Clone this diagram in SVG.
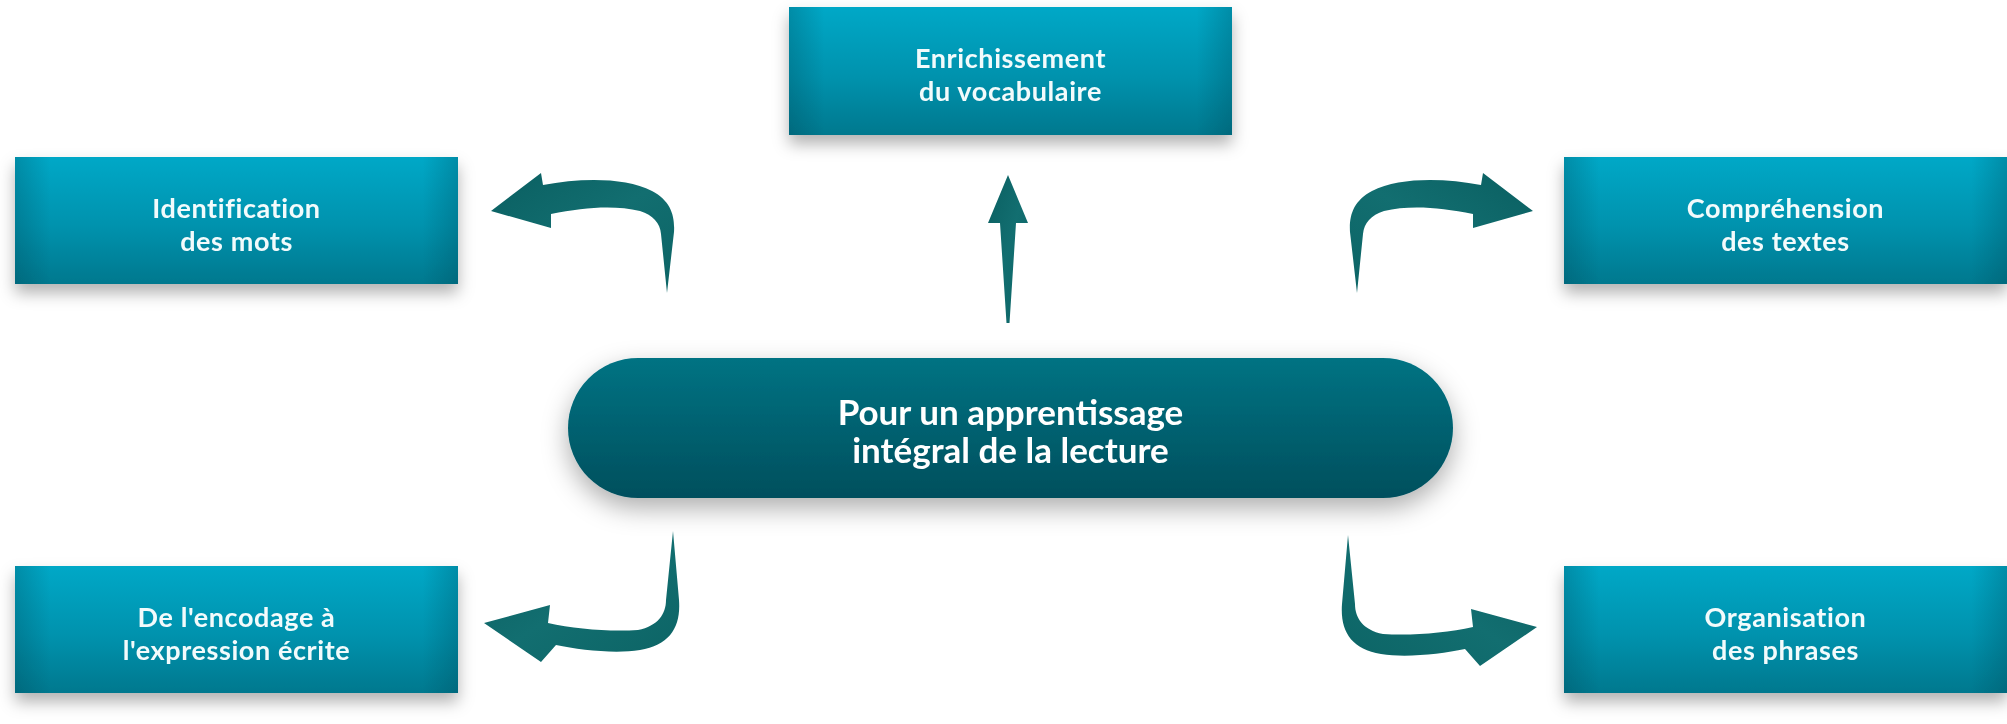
<svg xmlns="http://www.w3.org/2000/svg" width="2007" height="724" viewBox="0 0 2007 724">
  <defs>
    <linearGradient id="boxGrad" x1="0" y1="0" x2="0" y2="1">
      <stop offset="0" stop-color="#03A8C7"/>
      <stop offset="0.55" stop-color="#0692AD"/>
      <stop offset="1" stop-color="#05788E"/>
    </linearGradient>
    <linearGradient id="edgeGrad" x1="0" y1="0" x2="1" y2="0">
      <stop offset="0" stop-color="#003c4a" stop-opacity="0.25"/>
      <stop offset="0.08" stop-color="#003c4a" stop-opacity="0"/>
      <stop offset="0.92" stop-color="#003c4a" stop-opacity="0"/>
      <stop offset="1" stop-color="#003c4a" stop-opacity="0.25"/>
    </linearGradient>
    <linearGradient id="pillGrad" x1="0" y1="0" x2="0" y2="1">
      <stop offset="0" stop-color="#047383"/>
      <stop offset="1" stop-color="#024F5D"/>
    </linearGradient>
    <linearGradient id="arrowGrad" x1="0" y1="0" x2="1" y2="1">
      <stop offset="0" stop-color="#0A5F61"/>
      <stop offset="0.5" stop-color="#126E70"/>
      <stop offset="1" stop-color="#0C6465"/>
    </linearGradient>
    <filter id="shadow" x="-10%" y="-20%" width="120%" height="160%">
      <feDropShadow dx="0" dy="9" stdDeviation="8" flood-color="#000" flood-opacity="0.3"/>
    </filter>
    <filter id="pillShadow" x="-10%" y="-30%" width="120%" height="170%">
      <feDropShadow dx="0" dy="10" stdDeviation="13" flood-color="#000" flood-opacity="0.32"/>
    </filter>
  </defs>
  <style>
    .box { fill: url(#boxGrad); }
    .edge { fill: url(#edgeGrad); }
    .lbl { font-family: Lato, "Open Sans", "Liberation Sans", sans-serif; font-weight: 700; font-size: 27px; letter-spacing: 0.6px; fill: #F2FBFC; text-anchor: middle; }
    .main { font-size: 35px; letter-spacing: 0px; fill: #FFFFFF; }
    .arrow { fill: url(#arrowGrad); }
  </style>
  <rect width="2007" height="724" fill="#FFFFFF"/>

  <g id="center" filter="url(#pillShadow)">
    <rect x="568" y="358" width="885" height="140" rx="70" ry="70" fill="url(#pillGrad)"/>
    <text class="lbl main" x="1010.5" y="425">Pour un apprentissage</text>
    <text class="lbl main" x="1010.5" y="463">intégral de la lecture</text>
  </g>

  <g id="vocabulaire" filter="url(#shadow)">
    <rect class="box" x="789" y="7" width="443" height="128"/>
    <rect class="edge" x="789" y="7" width="443" height="128"/>
    <text class="lbl" x="1010.5" y="68">Enrichissement</text>
    <text class="lbl" x="1010.5" y="101">du vocabulaire</text>
  </g>

  <g id="identification" filter="url(#shadow)">
    <rect class="box" x="15" y="157" width="443" height="127"/>
    <rect class="edge" x="15" y="157" width="443" height="127"/>
    <text class="lbl" x="236.5" y="218">Identification</text>
    <text class="lbl" x="236.5" y="251">des mots</text>
  </g>

  <g id="comprehension" filter="url(#shadow)">
    <rect class="box" x="1564" y="157" width="443" height="127"/>
    <rect class="edge" x="1564" y="157" width="443" height="127"/>
    <text class="lbl" x="1785.5" y="218">Compréhension</text>
    <text class="lbl" x="1785.5" y="251">des textes</text>
  </g>

  <g id="encodage" filter="url(#shadow)">
    <rect class="box" x="15" y="566" width="443" height="127"/>
    <rect class="edge" x="15" y="566" width="443" height="127"/>
    <text class="lbl" x="236.5" y="627">De l'encodage à</text>
    <text class="lbl" x="236.5" y="660">l'expression écrite</text>
  </g>

  <g id="organisation" filter="url(#shadow)">
    <rect class="box" x="1564" y="566" width="443" height="127"/>
    <rect class="edge" x="1564" y="566" width="443" height="127"/>
    <text class="lbl" x="1785.5" y="627">Organisation</text>
    <text class="lbl" x="1785.5" y="660">des phrases</text>
  </g>

  <g id="connectors">
    <path class="arrow" d="M 1008 175 L 1028 223 L 1016 223 L 1009.5 323 L 1006.5 323 L 1000 223 L 988 223 Z"/>
    <path class="arrow" d="M 491 211 L 541 173 L 543 185 C 580 178 625 177 652 191 C 671 201 675 216 674 232 L 667 293 L 661 234 C 660 223 653 215 640 211 C 615 205 585 207 551 214 L 551 228 Z"/>
    <path class="arrow" transform="translate(2024,0) scale(-1,1)" d="M 491 211 L 541 173 L 543 185 C 580 178 625 177 652 191 C 671 201 675 216 674 232 L 667 293 L 661 234 C 660 223 653 215 640 211 C 615 205 585 207 551 214 L 551 228 Z"/>
    <path class="arrow" d="M 673 531 L 679 600 C 681 627 670 645 640 650 C 615 654 580 650 556 645 L 541 662 L 484 623 L 550 605 L 548 623 C 575 629 610 632 638 630 C 658 626 666 614 666 600 Z"/>
    <path class="arrow" transform="translate(2021,4) scale(-1,1)" d="M 673 531 L 679 600 C 681 627 670 645 640 650 C 615 654 580 650 556 645 L 541 662 L 484 623 L 550 605 L 548 623 C 575 629 610 632 638 630 C 658 626 666 614 666 600 Z"/>
  </g>
</svg>
